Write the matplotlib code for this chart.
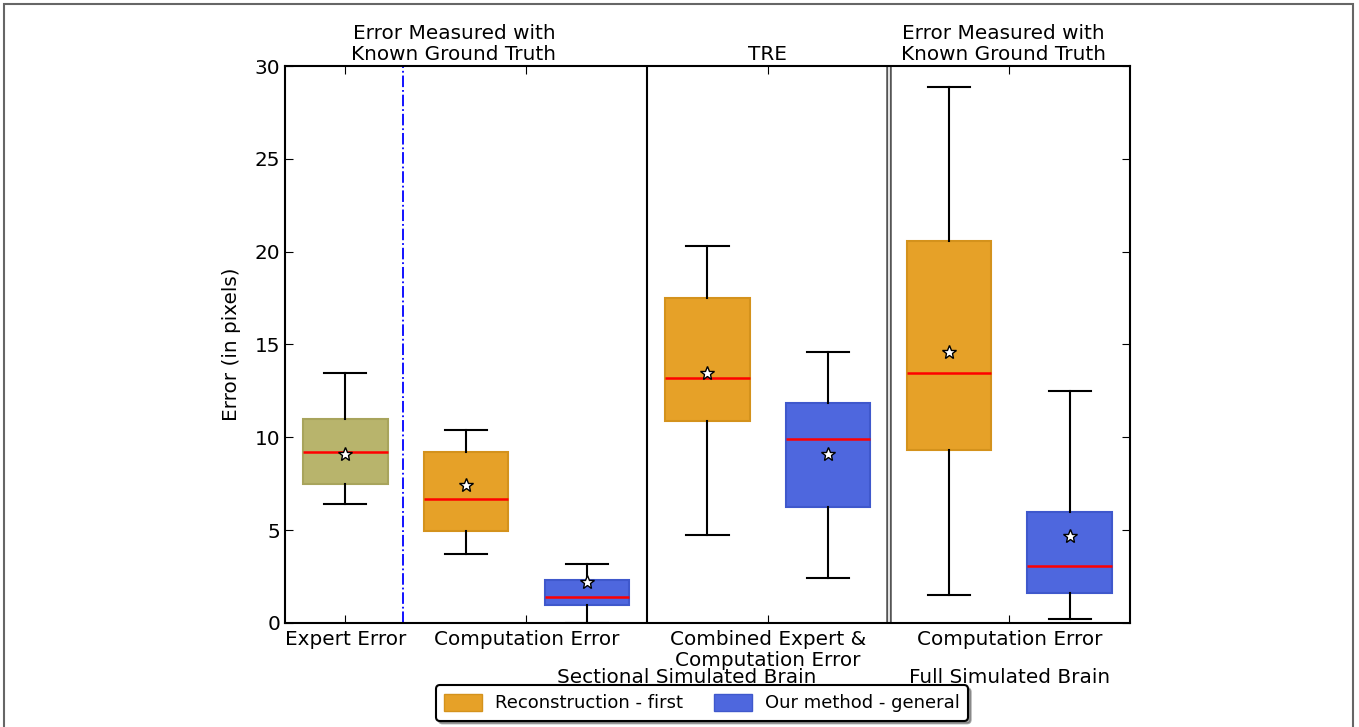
import matplotlib
matplotlib.use('Agg')
import matplotlib.pyplot as plt
from matplotlib.patches import Rectangle, Patch

# box statistics
positions = [1, 2, 3, 4, 5, 6, 7]
whislo = [6.4, 3.7, 0.0, 4.75, 2.4, 1.5, 0.2]
q1 = [7.5, 4.95, 0.95, 10.9, 6.25, 9.3, 1.6]
med = [9.2, 6.7, 1.4, 13.2, 9.9, 13.45, 3.05]
q3 = [11.0, 9.2, 2.3, 17.5, 11.85, 20.6, 6.0]
whishi = [13.45, 10.4, 3.15, 20.3, 14.6, 28.85, 12.5]
means = [9.1, 7.45, 2.2, 13.45, 9.1, 14.6, 4.7]
box_colors = ['#b8b46c', '#e6a128', '#4e67de', '#e6a128', '#4e67de', '#e6a128', '#4e67de']
edge_colors = ['#a8a45c', '#d4921c', '#3f58cc', '#d4921c', '#3f58cc', '#d4921c', '#3f58cc']

tick_pos = [1, 2.5, 4.5, 6.5]
tick_labels = ['Expert Error', 'Computation Error', 'Combined Expert &\nComputation Error', 'Computation Error']
top_labels = ['Error Measured with\nKnown Ground Truth', 'TRE', 'Error Measured with\nKnown Ground Truth']
top_label_pos = [1.9, 4.5, 6.45]
legend_labels = ['Reconstruction - first', 'Our method - general']

fs = 14.4
plt.rcParams['font.family'] = 'DejaVu Sans'
plt.rcParams['xtick.direction'] = 'in'
plt.rcParams['ytick.direction'] = 'in'

fig = plt.figure(figsize=(13.59, 7.27), dpi=100)
ax = fig.add_axes([0.2097, 0.1431, 0.6218, 0.7661])

stats = []
for i in range(len(positions)):
    stats.append({'whislo': whislo[i], 'q1': q1[i], 'med': med[i], 'q3': q3[i],
                  'whishi': whishi[i], 'mean': means[i], 'fliers': []})

bp = ax.bxp(stats, positions=positions, widths=0.7, patch_artist=True, showmeans=True,
            medianprops=dict(color='red', linewidth=1.8),
            whiskerprops=dict(color='black', linewidth=1.5),
            capprops=dict(color='black', linewidth=1.5),
            meanprops=dict(marker='*', markerfacecolor='white', markeredgecolor='black',
                           markersize=10, markeredgewidth=1))
for patch, fc, ec in zip(bp['boxes'], box_colors, edge_colors):
    patch.set_facecolor(fc)
    patch.set_edgecolor(ec)
    patch.set_linewidth(1.5)

# separators
ax.axvline(1.48, color='blue', linestyle='-.', linewidth=1.3)
ax.axvline(3.5, color='black', linewidth=1.5)
ax.axvline(5.5, color='#555555', linewidth=4)
ax.axvline(5.5, color='white', linewidth=1.2)

ax.set_xlim(0.5, 7.5)
ax.set_ylim(0, 30)
ax.set_yticks([0, 5, 10, 15, 20, 25, 30])
ax.set_xticks(tick_pos)
ax.set_xticklabels(tick_labels, fontsize=fs, linespacing=1.15)
ax.tick_params(axis='y', labelsize=fs, right=True, length=6)
ax.tick_params(axis='x', top=True, length=6, pad=5)
ax.set_ylabel('Error (in pixels)', fontsize=fs, labelpad=10)
for s in ax.spines.values():
    s.set_linewidth(1.5)

for x, t in zip(top_label_pos, top_labels):
    ax.text(x, 30.1, t, ha='center', va='bottom', fontsize=fs, linespacing=1.12)

ax.text(3.83, -2.92, 'Sectional Simulated Brain', ha='center', va='center', fontsize=fs)
ax.text(6.5, -2.92, 'Full Simulated Brain', ha='center', va='center', fontsize=fs)

handles = [Patch(facecolor='#e6a128', edgecolor='#d4921c'), Patch(facecolor='#4e67de', edgecolor='#3f58cc')]
leg = fig.legend(handles, legend_labels, loc='center', bbox_to_anchor=(0.5165, 0.033), ncol=2,
                 fancybox=True, shadow=True, fontsize=13, edgecolor='black',
                 handlelength=2.1, handleheight=1.1, handletextpad=0.7, columnspacing=1.75,
                 borderpad=0.45, borderaxespad=0.3)
leg.get_frame().set_linewidth(1.5)

fig.patches.append(Rectangle((0.003, -0.02), 0.9926, 1.0145, transform=fig.transFigure,
                             fill=False, edgecolor='#666666', linewidth=1.5))

fig.savefig('out.png', dpi=100)
